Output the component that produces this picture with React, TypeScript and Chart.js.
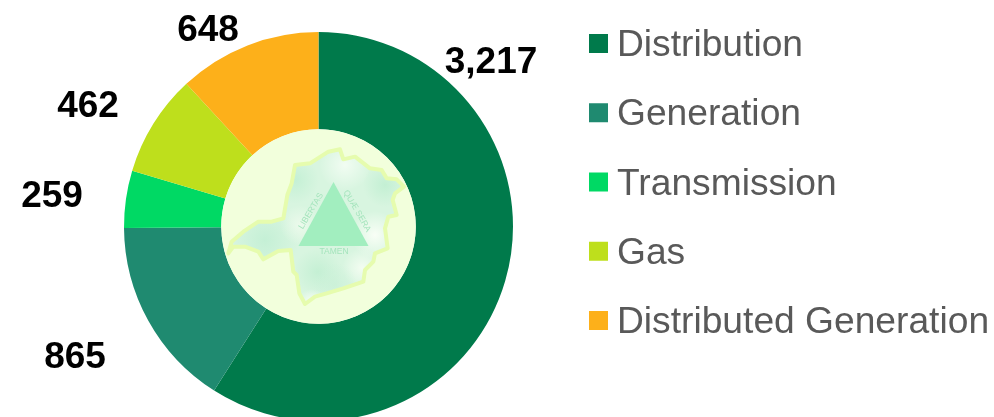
import React, { useEffect, useRef } from "react";
import { Chart, registerables } from "chart.js";

Chart.register(...registerables);

const categories = ["Distribution", "Generation", "Transmission", "Gas", "Distributed Generation"];
const seriesValues = [3217, 865, 259, 462, 648];
const valueLabels = ["3,217", "865", "259", "462", "648"];
const sliceColors = ["#007A4B", "#1F8A70", "#00D964", "#BEDF1C", "#FDB01A"];
const labelCentres: [number, number][] = [[491, 63], [75, 358], [52, 197], [88, 107], [208, 31]];

const FONT = '"Liberation Sans", Arial, sans-serif';

// Outline of the emblem in the hole, in px relative to the page.
const mapOutline: [number, number][] = [
  [85, 400], [95, 365], [130, 335], [175, 305], [215, 305], [250, 295], [262, 225], [275, 190],
  [285, 135], [330, 130], [385, 95], [420, 88], [430, 118], [465, 110], [510, 145], [545, 150],
  [560, 175], [590, 178], [612, 200], [585, 220], [578, 240], [590, 285], [565, 290], [555, 325],
  [563, 385], [525, 400], [520, 425], [495, 450], [490, 485], [430, 505], [380, 520], [345, 530],
  [315, 552], [298, 520], [290, 465], [280, 455], [272, 390], [235, 393], [190, 418], [175, 395],
  [135, 380], [100, 380],
].map(([x, y]) => [200 + x / 3, 120 + y / 3] as [number, number]);

// Soft cloud patches inside the emblem: x, y, radius, colour.
const patches: [number, number, number, string][] = [
  [345, 165, 26, "rgba(250,255,248,0.75)"],
  [295, 180, 24, "rgba(188,238,208,0.7)"],
  [385, 185, 22, "rgba(190,238,208,0.8)"],
  [265, 240, 34, "rgba(190,238,210,0.75)"],
  [300, 225, 20, "rgba(244,252,240,0.7)"],
  [375, 235, 24, "rgba(252,255,248,0.9)"],
  [318, 272, 24, "rgba(190,238,208,0.75)"],
  [362, 268, 20, "rgba(248,254,244,0.85)"],
  [335, 285, 22, "rgba(200,240,214,0.7)"],
  [312, 305, 16, "rgba(255,255,250,0.95)"],
];

const emblemPlugin = {
  id: "emblem",
  afterDatasetsDraw(chart: any) {
    const { ctx } = chart;
    const arc = chart.getDatasetMeta(0).data[0];
    const cx = arc.x;
    const cy = arc.y;
    const r = arc.innerRadius;

    ctx.save();
    ctx.fillStyle = "#F2FFDC";
    ctx.beginPath();
    ctx.arc(cx, cy, r, 0, Math.PI * 2);
    ctx.fill();

    const path = () => {
      ctx.beginPath();
      mapOutline.forEach(([x, y], i) => (i ? ctx.lineTo(x, y) : ctx.moveTo(x, y)));
      ctx.closePath();
    };

    ctx.save();
    path();
    ctx.clip();
    ctx.fillStyle = "#D8F5E0";
    ctx.fillRect(cx - r, cy - r, 2 * r, 2 * r);
    patches.forEach(([x, y, rad, color]) => {
      const g = ctx.createRadialGradient(x, y, 0, x, y, rad);
      g.addColorStop(0, color);
      g.addColorStop(1, color.replace(/[\d.]+\)$/, "0)"));
      ctx.fillStyle = g;
      ctx.fillRect(x - rad, y - rad, 2 * rad, 2 * rad);
    });
    ctx.restore();

    path();
    ctx.strokeStyle = "#E6FCAE";
    ctx.lineWidth = 4;
    ctx.lineJoin = "round";
    ctx.stroke();

    const tri = { top: [333.5, 182], left: [298.5, 246], right: [368.5, 246] };
    ctx.fillStyle = "#A2EEBF";
    ctx.beginPath();
    ctx.moveTo(tri.top[0], tri.top[1]);
    ctx.lineTo(tri.right[0], tri.right[1]);
    ctx.lineTo(tri.left[0], tri.left[1]);
    ctx.closePath();
    ctx.fill();

    ctx.fillStyle = "#A4E4BC";
    ctx.font = `8.5px ${FONT}`;
    ctx.textAlign = "center";
    ctx.textBaseline = "middle";
    ctx.fillText("TAMEN", 334, 252);
    ctx.save();
    ctx.translate(311, 211);
    ctx.rotate((-59 * Math.PI) / 180);
    ctx.fillText("LIBERTAS", 0, 0);
    ctx.restore();
    ctx.save();
    ctx.translate(357, 211);
    ctx.rotate((60 * Math.PI) / 180);
    ctx.fillText("QUÆ SERA", 0, 0);
    ctx.restore();
    ctx.restore();
  },
  afterDraw(chart: any) {
    const { ctx } = chart;
    const labels: string[] = chart.data.labels;
    const colors: string[] = chart.data.datasets[0].backgroundColor;
    ctx.save();
    ctx.textBaseline = "alphabetic";
    ctx.textAlign = "left";
    labels.forEach((label, i) => {
      const baseline = 56 + i * 69.25;
      ctx.fillStyle = colors[i];
      ctx.fillRect(589, baseline - 22, 19, 19);
      ctx.fillStyle = "#595959";
      ctx.font = `37.2px ${FONT}`;
      ctx.fillText(label, 617, baseline);
    });
    ctx.fillStyle = "#000000";
    ctx.font = `bold 37px ${FONT}`;
    ctx.textAlign = "center";
    ctx.textBaseline = "middle";
    valueLabels.forEach((text, i) => {
      ctx.fillText(text, labelCentres[i][0], labelCentres[i][1]);
    });
    ctx.restore();
  },
};

export default function App() {
  const ref = useRef<HTMLCanvasElement>(null);
  useEffect(() => {
    document.body.style.margin = "0";
    const chart = new Chart(ref.current!, {
      type: "doughnut",
      data: {
        labels: categories,
        datasets: [{ data: seriesValues, backgroundColor: sliceColors, borderWidth: 0 }],
      },
      options: {
        animation: false,
        responsive: false,
        maintainAspectRatio: false,
        cutout: "50%",
        layout: { padding: { left: 124, top: 32, right: 481, bottom: 1 } },
        plugins: { legend: { display: false }, tooltip: { enabled: false } },
      },
      plugins: [emblemPlugin],
    });
    return () => chart.destroy();
  }, []);
  return (
    <div style={{ width: 994, height: 417, overflow: "hidden", background: "#fff" }}>
      <canvas ref={ref} width={994} height={422} style={{ display: "block" }} />
    </div>
  );
}
